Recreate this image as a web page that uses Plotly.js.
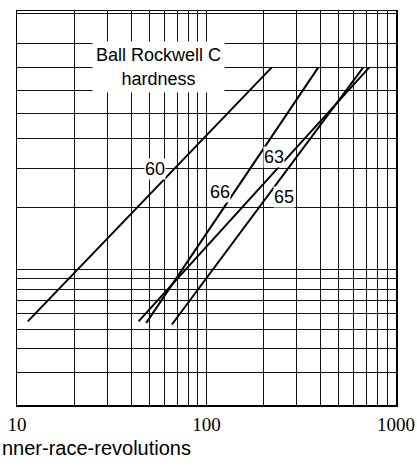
<!DOCTYPE html>
<html>
<head>
<meta charset="utf-8">
<script src="https://cdn.plot.ly/plotly-3.0.1.min.js"></script>
<style>html,body{margin:0;padding:0;background:#fff;}#chart{width:417px;height:466px;}</style>
</head>
<body>
<div id="chart"></div>
<script>
// Ball Rockwell C hardness of each line
const hardness = ["60", "63", "65", "66"];
// inner-race revolutions (millions) at the lower and upper end of each line
const revStart = [11.4, 43.8, 65.7, 48.1];
const revEnd = [221, 723, 672, 389];
// percent of bearings failed at the lower and upper end of each line
const pctStart = [5.5, 5.5, 5.3, 5.4];
const pctEnd = [70, 70, 70, 70];
// grid lines
const xGrid = [10, 20, 30, 40, 50, 60, 70, 80, 90, 100, 200, 300, 400, 500, 600, 700, 800, 900, 1000];
const xTickText = ["10", "", "", "", "", "", "", "", "", "100", "", "", "", "", "", "", "", "", "1000"];
const pctGrid = [2, 3, 4, 5, 6, 7, 8, 9, 10, 20, 30, 40, 50, 60, 70, 80, 90];

// Weibull probability scale: plot -ln(1 - F) on a log axis
const weib = p => -Math.log(1 - p / 100);

const SANS = "'Liberation Sans', Arial, sans-serif";
const SERIF = "'Liberation Serif', 'Times New Roman', serif";

const traces = hardness.map((h, i) => ({
  type: "scatter",
  mode: "lines",
  name: h,
  x: [revStart[i], revEnd[i]],
  y: [weib(pctStart[i]), weib(pctEnd[i])],
  line: {color: "#000", width: 2},
  hoverinfo: "skip",
  showlegend: false
}));

const labelPos = {
  "60": [1.729, -0.451],
  "63": [2.357, -0.388],
  "65": [2.4095, -0.597],
  "66": [2.072, -0.571]
};

const annotations = hardness.map(h => ({
  x: labelPos[h][0], y: labelPos[h][1], xref: "x", yref: "y",
  text: h, showarrow: false, bgcolor: "#fff", borderpad: 0,
  font: {family: SANS, size: 18, color: "#000"}
}));

annotations.push({
  x: 1.7477, y: 0.0826, xref: "x", yref: "y",
  text: "Ball Rockwell C<br>hardness", showarrow: false,
  bgcolor: "#fff", borderpad: 0, align: "center",
  width: 131, height: 50,
  font: {family: SANS, size: 18, color: "#000"}
});

annotations.push({
  x: -0.045, y: -0.11, xref: "paper", yref: "paper",
  xanchor: "left", yanchor: "middle",
  text: "nner-race-revolutions", showarrow: false,
  font: {family: SANS, size: 20, color: "#000"}
});

const layout = {
  width: 417, height: 466,
  margin: {l: 17, r: 21, t: 11, b: 61},
  paper_bgcolor: "#fff", plot_bgcolor: "#fff",
  showlegend: false,
  xaxis: {
    type: "log", range: [1, 3],
    tickmode: "array", tickvals: xGrid, ticktext: xTickText,
    showgrid: true, gridcolor: "#111", gridwidth: 1,
    showline: true, mirror: true, linecolor: "#000", linewidth: 1.5,
    ticks: "", zeroline: false, ticklabelstandoff: 2,
    tickfont: {family: SERIF, size: 19, color: "#000"}
  },
  yaxis: {
    type: "log", range: [-1.685, 0.3757],
    tickmode: "array", tickvals: pctGrid.map(weib),
    showticklabels: false,
    showgrid: true, gridcolor: "#111", gridwidth: 1,
    showline: true, mirror: true, linecolor: "#000", linewidth: 1.5,
    ticks: "", zeroline: false
  },
  annotations: annotations
};

Plotly.newPlot("chart", traces, layout, {staticPlot: true, displayModeBar: false});
</script>
</body>
</html>
